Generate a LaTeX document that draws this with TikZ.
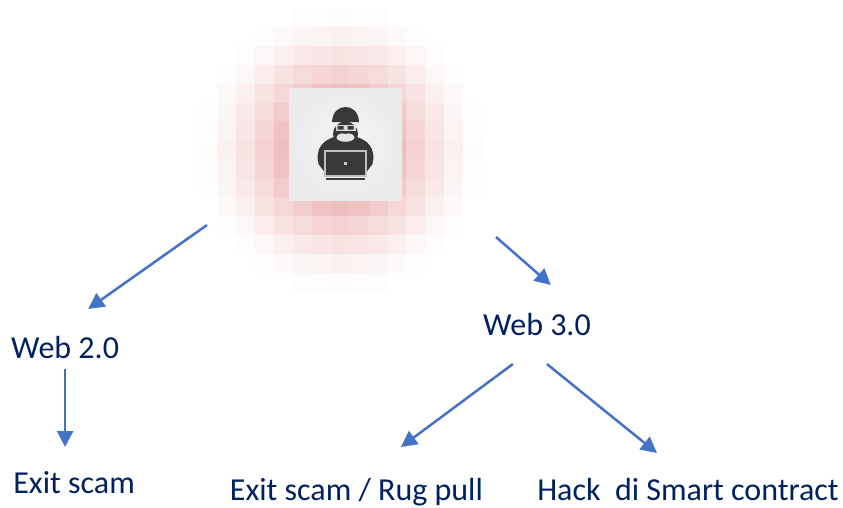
\documentclass[tikz,border=0pt]{standalone}
\usepackage{fontspec}
\setmainfont{Carlito}
\usepackage{tikz}
\usetikzlibrary{arrows.meta,positioning}
\definecolor{navy}{RGB}{0, 32, 96}
\definecolor{linkblue}{RGB}{68, 114, 196}
\definecolor{glowred}{RGB}{227, 142, 142}
\definecolor{iconink}{RGB}{56, 56, 58}
\tikzstyle{webtext} = [draw=none, fill=none, inner sep=0pt, outer sep=0pt, text=navy, text height=22pt, text depth=7pt, font=\fontsize{32}{38}\selectfont]
\tikzstyle{hackerbox} = [draw=none, inner sep=0pt, outer sep=0pt, minimum width=113pt, minimum height=112pt]
\tikzstyle{tedge}  = [draw=linkblue, line width=2.5pt, >={Triangle[length=16pt,width=16pt]}, ->]

\begin{document}
\begin{tikzpicture}
\useasboundingbox (0,0) rectangle (843pt,-507pt);

% glow =============================
\foreach \i in {-8,...,8} {
  \foreach \j in {-8,...,8} {
    \pgfmathsetmacro{\tone}{125*pow(max(1-sqrt(\i*\i+\j*\j)/7.8,0.001),1.6)}
    \fill[glowred!\tone!white] ({340.5pt+18.9pt*\i-9.7pt},{-150pt-18.9pt*\j-9.7pt}) rectangle ++(19.4pt,19.4pt);
  }
}

% nodes =============================
\node[hackerbox] (hacker) at (345.5pt,-144pt) {};
\shade[inner color=black!4, outer color=black!8] (hacker.south west) rectangle (hacker.north east);
\node[webtext, below left=136pt and 170pt of hacker] (web2) {Web 2.0};
\node[webtext, below right=113pt and 81pt of hacker] (web3) {Web 3.0};
\node[webtext, below=106pt of web2, xshift=9pt] (exit2) {Exit scam};
\node[webtext, text depth=1pt, below left=136pt and 0pt of web3] (rug) {Exit scam / Rug pull};
\node[webtext, text depth=1pt, below right=136pt and -53.5pt of web3] (hack) {Hack\ \ di Smart contract};

% icon
\begin{scope}[shift={(hacker.center)}, x=1pt, y=1pt]
\fill[iconink] (-13.5,22) .. controls (-13,33) and (-6,37) .. (0,37) .. controls (6,37) and (13,33) .. (13.5,22) -- cycle;
\fill[iconink] (0,10) circle (12.5);
\fill[iconink] (-7,8) .. controls (-18,6) and (-28,0) .. (-28,-14) -- (-27,-20) -- (-21,-28) -- (21,-28) -- (27,-20) -- (28,-14) .. controls (28,0) and (18,6) .. (7,8) -- cycle;
\fill[white!85!black] (-10,13.5) rectangle (10,19);
\fill[iconink] (-8,14.5) rectangle (-2,18) (2,14.5) rectangle (8,18);
\fill[white!90!black] (0,10) .. controls (-5,12) and (-9,9) .. (-9,6) .. controls (-7,1) and (7,1) .. (9,6) .. controls (9,9) and (5,12) .. (0,10) -- cycle;
\fill[white!75!black] (-21.5,-6) rectangle (21.5,-33);
\fill[iconink] (-19.5,-8) rectangle (19.5,-31);
\fill[iconink] (-19.5,-33.5) rectangle (19.5,-36);
\fill[white!80!black] (-1.7,-18) rectangle (1.7,-21.4);
\end{scope}

% edges
\path[tedge] ([xshift=-82pt,yshift=-25pt]hacker.south west) -- ([xshift=23pt,yshift=27pt]web2.north);
\path[tedge] ([xshift=94pt,yshift=-37pt]hacker.south east) -- ([xshift=14pt,yshift=28pt]web3.north);
\path[tedge] ([yshift=-4pt]web2.south) -- ([xshift=-9pt,yshift=24pt]exit2.north);
\path[tedge] ([xshift=-24pt,yshift=-22pt]web3.south) -- ([xshift=44.5pt,yshift=31pt]rug.north);
\path[tedge] ([xshift=10pt,yshift=-22pt]web3.south) -- ([xshift=-31pt,yshift=25pt]hack.north);

\end{tikzpicture}
\end{document}
